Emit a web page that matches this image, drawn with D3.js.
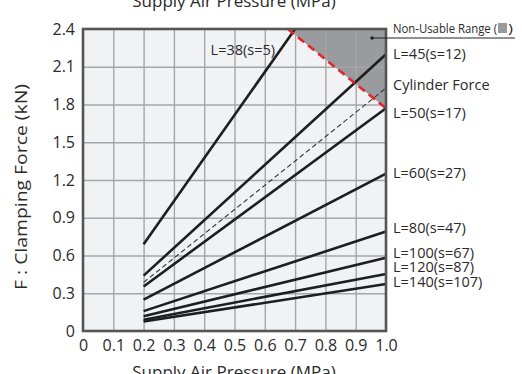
<!DOCTYPE html>
<html>
<head>
<meta charset="utf-8">
<script src="https://cdn.jsdelivr.net/npm/d3@7"></script>
<style>
  html, body { margin: 0; padding: 0; background: #fff; }
  svg { display: block; font-family: "Open Sans", "Noto Sans", sans-serif; }
</style>
</head>
<body>
<svg id="chart" width="522" height="374"></svg>
<script>
// clamping force lines, F = f(P); each starts at 0.2 MPa
var lineLabels = ['L=38(s=5)', 'L=45(s=12)', 'L=50(s=17)', 'L=60(s=27)', 'L=80(s=47)',
  'L=100(s=67)', 'L=120(s=87)', 'L=140(s=107)'];
var startPressure = [0.2, 0.2, 0.2, 0.2, 0.2, 0.2, 0.2, 0.2];
var startForce = [0.69, 0.44, 0.354, 0.25, 0.158, 0.117, 0.09, 0.075];
var endPressure = [0.7, 1.0, 1.0, 1.0, 1.0, 1.0, 1.0, 1.0];
var endForce = [2.4, 2.2, 1.77, 1.25, 0.79, 0.583, 0.453, 0.373];

// cylinder force (dashed)
var cylinderPressure = [0.2, 1.0];
var cylinderForce = [0.386, 1.93];

// non-usable range boundary (red dashed)
var limitPressure = [0.676, 1.0];
var limitForce = [2.4, 1.77];

var xTicks = [0, 0.1, 0.2, 0.3, 0.4, 0.5, 0.6, 0.7, 0.8, 0.9, 1.0];
var yTicks = [0, 0.3, 0.6, 0.9, 1.2, 1.5, 1.8, 2.1, 2.4];

var margin = {top: 29, right: 136, bottom: 43, left: 83}
  , width = 522 - margin.left - margin.right
  , height = 374 - margin.top - margin.bottom;

var svg = d3.select('#chart');
var g = svg.append('g').attr('transform', 'translate(' + margin.left + ',' + margin.top + ')');

var x = d3.scaleLinear().domain([0, 1.0]).range([0, width]);
var y = d3.scaleLinear().domain([0, 2.4]).range([height, 0]);

g.append('rect')
  .attr('width', width).attr('height', height)
  .attr('fill', '#f1f2f4');

// non-usable range
var limitPts = d3.zip(limitPressure, limitForce);
g.append('path')
  .attr('d', d3.line().x(d => x(d[0])).y(d => y(d[1]))(limitPts.concat([[1.0, 2.4]])) + 'Z')
  .attr('fill', '#9a9b9f');

// grid
var xGrid = d3.axisBottom(x).tickValues(xTicks.slice(1, -1)).tickSize(-height).tickFormat('');
g.append('g').attr('class', 'grid x')
  .attr('transform', 'translate(0,' + height + ')')
  .call(xGrid);
var yGrid = d3.axisLeft(y).tickValues(yTicks.slice(1, -1)).tickSize(-width).tickFormat('');
g.append('g').attr('class', 'grid y').call(yGrid);
g.selectAll('.grid .domain').remove();
g.selectAll('.grid line').attr('stroke', '#a6a6a6').attr('stroke-width', 1.4);

// lines
var line = d3.line().x(d => x(d[0])).y(d => y(d[1]));
lineLabels.forEach(function (name, i) {
  g.append('path')
    .attr('d', line([[startPressure[i], startForce[i]], [endPressure[i], endForce[i]]]))
    .attr('fill', 'none').attr('stroke', '#1e1e1e').attr('stroke-width', 2.6);
});

g.append('path')
  .attr('d', line(d3.zip(cylinderPressure, cylinderForce)))
  .attr('fill', 'none').attr('stroke', '#333').attr('stroke-width', 1.1)
  .attr('stroke-dasharray', '5,3');

g.append('path')
  .attr('d', line(limitPts))
  .attr('fill', 'none').attr('stroke', '#e8232a').attr('stroke-width', 2.6)
  .attr('stroke-dasharray', '8,5');

// border
g.append('rect')
  .attr('width', width).attr('height', height)
  .attr('fill', 'none').attr('stroke', '#555').attr('stroke-width', 2.6);

// axes labels
var xAxis = d3.axisBottom(x).tickValues(xTicks).tickSize(0).tickPadding(9)
  .tickFormat(d => d === 0 ? '0' : d3.format('.1f')(d));
g.append('g').attr('class', 'x axis')
  .attr('transform', 'translate(0,' + height + ')')
  .call(xAxis);
var yAxis = d3.axisLeft(y).tickValues(yTicks).tickSize(0).tickPadding(8)
  .tickFormat(d => d === 0 ? '0' : d3.format('.1f')(d));
g.append('g').attr('class', 'y axis').call(yAxis);
g.selectAll('.axis .domain').remove();
g.selectAll('.axis text')
  .style('font-size', '16px').style('font-family', '"Open Sans", sans-serif').attr('fill', '#2a2a2a');

// right labels
var labelNudge = [0, 0, 5, -1, -4, -5, -7, -2];
lineLabels.forEach(function (name, i) {
  if (i === 0) {
    g.append('text')
      .attr('x', x(0.634)).attr('y', y(2.4) + 21)
      .attr('dy', '0.35em').attr('text-anchor', 'end')
      .style('font-size', '14.5px').attr('fill', '#2a2a2a').text(name);
    return;
  }
  g.append('text')
    .attr('x', width + 7).attr('y', y(endForce[i]) + labelNudge[i])
    .attr('dy', '0.35em')
    .style('font-size', '14.5px').attr('fill', '#2a2a2a').text(name);
});
g.append('text')
  .attr('x', width + 7).attr('y', y(cylinderForce[1]) - 3)
  .attr('dy', '0.35em')
  .style('font-size', '14.5px').attr('fill', '#2a2a2a').text('Cylinder Force');

// non-usable legend
var nuY = 38;
svg.append('line')
  .attr('x1', 372).attr('x2', 515).attr('y1', nuY).attr('y2', nuY)
  .attr('stroke', '#222').attr('stroke-width', 1.2);
svg.append('circle').attr('cx', 372).attr('cy', nuY).attr('r', 1.8).attr('fill', '#222');
svg.append('text')
  .attr('x', 393).attr('y', 33)
  .attr('textLength', 104).attr('lengthAdjust', 'spacingAndGlyphs')
  .style('font-size', '13px').attr('fill', '#2a2a2a').text('Non-Usable Range (');
svg.append('rect')
  .attr('x', 498).attr('y', 23).attr('width', 9).attr('height', 10)
  .attr('fill', '#9a9b9f');
svg.append('text')
  .attr('x', 508).attr('y', 33)
  .attr('textLength', 5).attr('lengthAdjust', 'spacingAndGlyphs')
  .style('font-size', '13px').attr('fill', '#2a2a2a').text(')');

// titles
svg.append('text')
  .attr('x', 234).attr('y', 7).attr('text-anchor', 'middle')
  .style('font-size', '17px').attr('fill', '#2a2a2a').text('Supply Air Pressure (MPa)');
svg.append('text')
  .attr('x', 234).attr('y', 378).attr('text-anchor', 'middle')
  .style('font-size', '17px').attr('fill', '#2a2a2a').text('Supply Air Pressure (MPa)');
svg.append('text')
  .attr('transform', 'translate(21,187) rotate(-90)')
  .attr('text-anchor', 'middle').attr('dy', '0.35em')
  .attr('textLength', 206).attr('lengthAdjust', 'spacingAndGlyphs')
  .style('font-size', '17px').attr('fill', '#2a2a2a').text('F : Clamping Force  (kN)');
</script>
</body>
</html>
